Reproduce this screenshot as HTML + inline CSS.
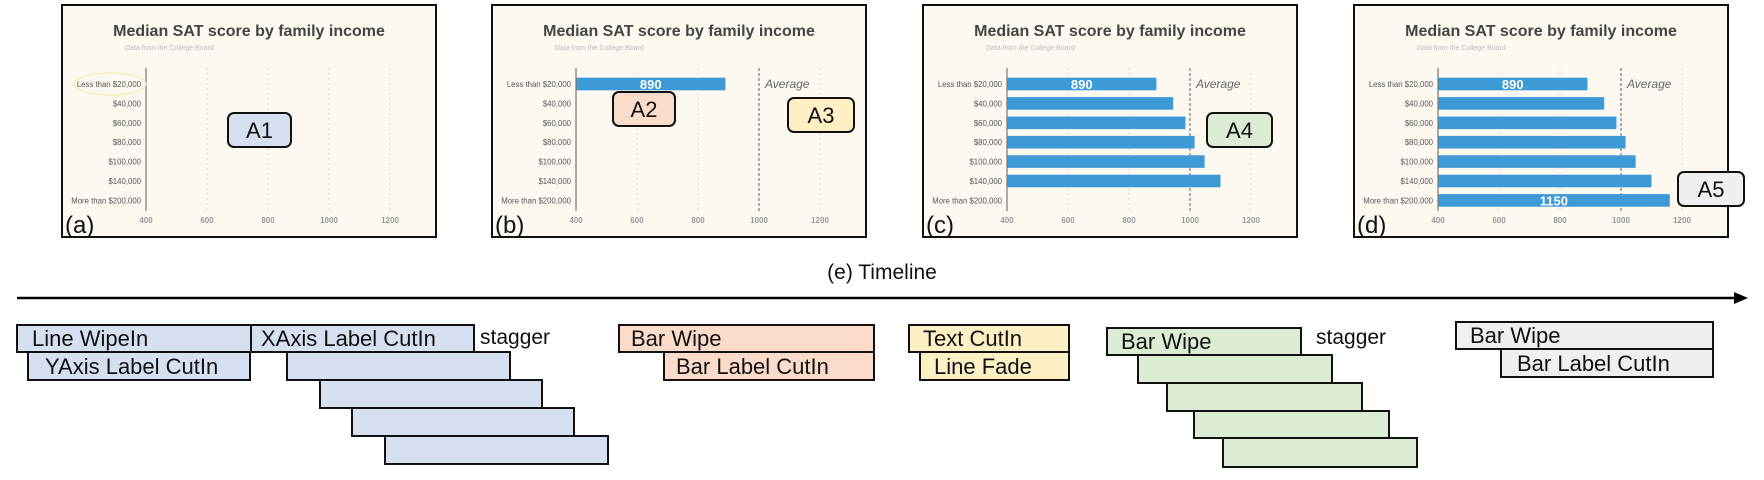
<!DOCTYPE html>
<html><head><meta charset="utf-8"><style>
html,body{margin:0;padding:0;background:#fff;}
svg{display:block;font-family:"Liberation Sans",sans-serif;}
</style></head><body>
<svg id="root" width="1764" height="480" viewBox="0 0 1764 480" xmlns="http://www.w3.org/2000/svg">
<g id="panels"></g>
<g id="timeline">
<text x="882" y="279" font-size="21" text-anchor="middle" fill="#111">(e) Timeline</text>
<line x1="17" y1="298" x2="1738" y2="298" stroke="#000" stroke-width="2.5"/>
<polygon points="1748,298 1734,292 1734,304" fill="#000"/>
</g>
</svg>
<script>
const categories = ["Less than $20,000","$40,000","$60,000","$80,000","$100,000","$140,000","More than $200,000"];
const scores = [890, 945, 985, 1015, 1048, 1100, 1160];
const xTicks = [400, 600, 800, 1000, 1200];
const averageScore = 1000;
const panelLetters = ["(a)","(b)","(c)","(d)"];
const barsShown = [0, 1, 6, 7];
const avgShown = [false, true, true, true];
const valueLabels = ["890", "1150"];

const NS = "http://www.w3.org/2000/svg";
function mk(tag, attrs, parent, text){
  const e = document.createElementNS(NS, tag);
  for (const k in attrs) e.setAttribute(k, attrs[k]);
  if (text !== undefined) e.textContent = text;
  parent.appendChild(e);
  return e;
}
const panelsG = document.getElementById("panels");
const panelX = [62, 492, 923, 1354];
const PW = 374, PH = 232, PY = 5;
function xs(v){ return 84 + (v - 400) / 800 * 244; }
function ys(i){ return 79 + i * 19.4; }

panelX.forEach((px, p) => {
  const g = mk("g", {transform: `translate(${px},${PY})`}, panelsG);
  
  
  const bg = mk("rect", {x:0, y:0, width:PW, height:PH, fill:"#fdf9f1", stroke:"#111", "stroke-width":2}, g);
  
  
  const t = mk("text", {x:187, y:31, "font-size":16, "font-weight":"bold", fill:"#444", "text-anchor":"middle"}, g, "Median SAT score by family income");
  
  
  const st = mk("text", {x:63, y:45, "font-size":7, fill:"#bbb"}, g, "Data from the College Board");
  
  
  xTicks.forEach(v => {
    if (v !== 400) {
      const gl = mk("line", {x1:xs(v), y1:63, x2:xs(v), y2:206, stroke:"#ddd", "stroke-width":1, "stroke-dasharray":"2,3"}, g);
      
      
    }
    const tl = mk("text", {x:xs(v), y:218, "font-size":8, "font-weight":"bold", fill:"#999", "text-anchor":"middle"}, g, String(v));
    
    
  });
  if (avgShown[p]) {
    const al = mk("line", {x1:xs(averageScore), y1:63, x2:xs(averageScore), y2:206, stroke:"#777", "stroke-width":1.2, "stroke-dasharray":"3,2"}, g);
    
    
    const at = mk("text", {x:xs(averageScore)+6, y:ys(0)+4, "font-size":12, "font-style":"italic", fill:"#666"}, g, "Average");
    
    
  }
  categories.forEach((c, i) => {
    const cl = mk("text", {x:79, y:ys(i)+3, "font-size":7.8, fill:"#555", "text-anchor":"end"}, g, c);
    
    
    if (i < barsShown[p]) {
      const b = mk("rect", {x:xs(400), y:ys(i)-6.3, width:xs(scores[i])-xs(400), height:12.6, fill:"#3d9ad6"}, g);
      
      
    }
  });
  const ax = mk("line", {x1:xs(400), y1:63, x2:xs(400), y2:206, stroke:"#777", "stroke-width":1.2}, g);
  
  
  if (barsShown[p] >= 1) {
    const v0 = mk("text", {x:(xs(400)+xs(scores[0]))/2, y:ys(0)+5, "font-size":13, "font-weight":"bold", fill:"#fff", "text-anchor":"middle"}, g, valueLabels[0]);
    
    
  }
  if (barsShown[p] >= 7) {
    const v6 = mk("text", {x:(xs(400)+xs(scores[6]))/2, y:ys(6)+5, "font-size":13, "font-weight":"bold", fill:"#fff", "text-anchor":"middle"}, g, valueLabels[1]);
    
    
  }
  if (p === 0) {
    const el = mk("ellipse", {cx:48, cy:79, rx:36, ry:11, fill:"none", stroke:"#f3eaa8", "stroke-width":1}, g);
    
    
  }
  const lt = mk("text", {x:3, y:228, "font-size":24, fill:"#111"}, g, panelLetters[p]);
  
  
});

const badges = [
  ["A1", 228, 113, 63, 34, "#d6dff0"],
  ["A2", 613, 92, 62, 34, "#fbdccb"],
  ["A3", 788, 98, 66, 34, "#fdf0c4"],
  ["A4", 1207, 113, 65, 34, "#dcebd3"],
  ["A5", 1678, 172, 66, 34, "#efefef"]
];
badges.forEach(b => {
  const g = mk("g", {}, panelsG);
  
  
  mk("rect", {x:b[1], y:b[2], width:b[3], height:b[4], rx:6, fill:b[5], stroke:"#111", "stroke-width":2}, g);
  mk("text", {x:b[1]+b[3]/2, y:b[2]+b[4]/2+8, "font-size":22, fill:"#111", "text-anchor":"middle"}, g, b[0]);
});

const tl = document.getElementById("timeline");
const boxes = [
  [17,325,234,27,"#d6dff0","Line WipeIn",15],
  [251,325,223,27,"#d6dff0","XAxis Label CutIn",10],
  [28,352,222,28,"#d6dff0","YAxis Label CutIn",17],
  [287,352,223,28,"#d6dff0","",0],
  [320,380,222,28,"#d6dff0","",0],
  [352,408,222,28,"#d6dff0","",0],
  [385,436,223,28,"#d6dff0","",0],
  [619,325,255,27,"#fbdccb","Bar Wipe",12],
  [664,352,210,28,"#fbdccb","Bar Label CutIn",12],
  [909,325,160,27,"#fdf0c4","Text CutIn",14],
  [920,352,149,28,"#fdf0c4","Line Fade",14],
  [1107,328,194,27,"#dcebd3","Bar Wipe",14],
  [1138,355,194,28,"#dcebd3","",0],
  [1167,383,195,28,"#dcebd3","",0],
  [1194,411,195,27,"#dcebd3","",0],
  [1223,438,194,29,"#dcebd3","",0],
  [1456,322,257,27,"#efefef","Bar Wipe",14],
  [1501,349,212,28,"#efefef","Bar Label CutIn",16]
];
boxes.forEach(b => {
  const r = mk("rect", {x:b[0], y:b[1], width:b[2], height:b[3], fill:b[4], stroke:"#111", "stroke-width":2}, tl);
  
  
  if (b[5]) {
    const t = mk("text", {x:b[0]+b[6], y:b[1]+b[3]-6, "font-size":22, fill:"#111"}, tl, b[5]);
    
    
  }
});
[[480,344],[1316,344]].forEach(s => {
  const t = mk("text", {x:s[0], y:s[1], "font-size":21, fill:"#111"}, tl, "stagger");
  
  
});
</script>
</body></html>
